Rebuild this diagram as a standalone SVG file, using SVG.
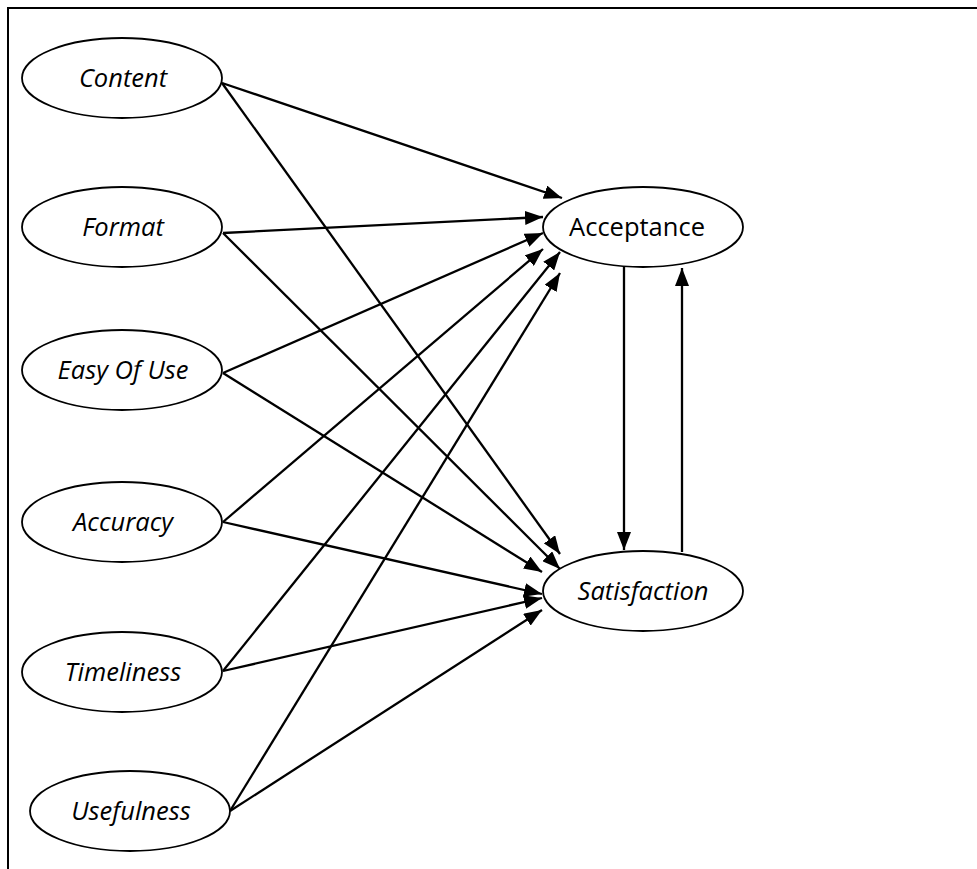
<svg xmlns="http://www.w3.org/2000/svg" width="977" height="869" viewBox="0 0 977 869">
<style>
.node ellipse{fill:#fff;stroke:#000;stroke-width:1.8}
.node text{font-family:"Open Sans","Noto Sans",sans-serif;font-size:25.5px;text-anchor:middle;fill:#000}
.it{font-style:italic}
.edge{stroke:#000;stroke-width:2.3;fill:none;marker-end:url(#ah)}
.frame{stroke:#000;stroke-width:2;fill:none}
</style>
<defs>
<marker id="ah" viewBox="0 0 18 14" refX="18" refY="7" markerWidth="18" markerHeight="14" markerUnits="userSpaceOnUse" orient="auto">
<path d="M0,0 L18,7 L0,14 z" fill="#000"/>
</marker>
</defs>
<rect width="977" height="869" fill="#fff"/>
<path class="frame" d="M8,869 L8,8 L977,8"/>
<g id="connectors">
<line class="edge" x1="222" y1="83" x2="562" y2="198"/>
<line class="edge" x1="222" y1="83" x2="560" y2="554"/>
<line class="edge" x1="223" y1="233" x2="543" y2="217"/>
<line class="edge" x1="223" y1="233" x2="560" y2="569"/>
<line class="edge" x1="223" y1="373" x2="543" y2="233"/>
<line class="edge" x1="223" y1="373" x2="542" y2="572"/>
<line class="edge" x1="223" y1="522" x2="543" y2="249"/>
<line class="edge" x1="223" y1="522" x2="542" y2="594"/>
<line class="edge" x1="223" y1="671" x2="560" y2="252"/>
<line class="edge" x1="223" y1="671" x2="542" y2="598"/>
<line class="edge" x1="230" y1="811" x2="560" y2="273"/>
<line class="edge" x1="230" y1="811" x2="542" y2="610"/>
<line class="edge" x1="624" y1="267" x2="624" y2="550"/>
<line class="edge" x1="682" y1="552" x2="682" y2="268"/>
</g>
<g id="content" class="node"><ellipse cx="122" cy="78" rx="100" ry="40"/><text class="it" x="123" y="87">Content</text></g>
<g id="format" class="node"><ellipse cx="122" cy="227" rx="100" ry="40"/><text class="it" x="123" y="236">Format</text></g>
<g id="easy" class="node"><ellipse cx="122" cy="370" rx="100" ry="40"/><text class="it" x="123" y="379">Easy Of Use</text></g>
<g id="accuracy" class="node"><ellipse cx="122" cy="522" rx="100" ry="40"/><text class="it" x="123" y="531">Accuracy</text></g>
<g id="timeliness" class="node"><ellipse cx="122" cy="672" rx="100" ry="40"/><text class="it" x="123" y="681">Timeliness</text></g>
<g id="usefulness" class="node"><ellipse cx="130" cy="811" rx="100" ry="40"/><text class="it" x="131" y="820">Usefulness</text></g>
<g id="acceptance" class="node"><ellipse cx="643" cy="227" rx="100" ry="40"/><text x="637" y="236">Acceptance</text></g>
<g id="satisfaction" class="node"><ellipse cx="643" cy="591" rx="100" ry="40"/><text class="it" x="643" y="600">Satisfaction</text></g>
</svg>
